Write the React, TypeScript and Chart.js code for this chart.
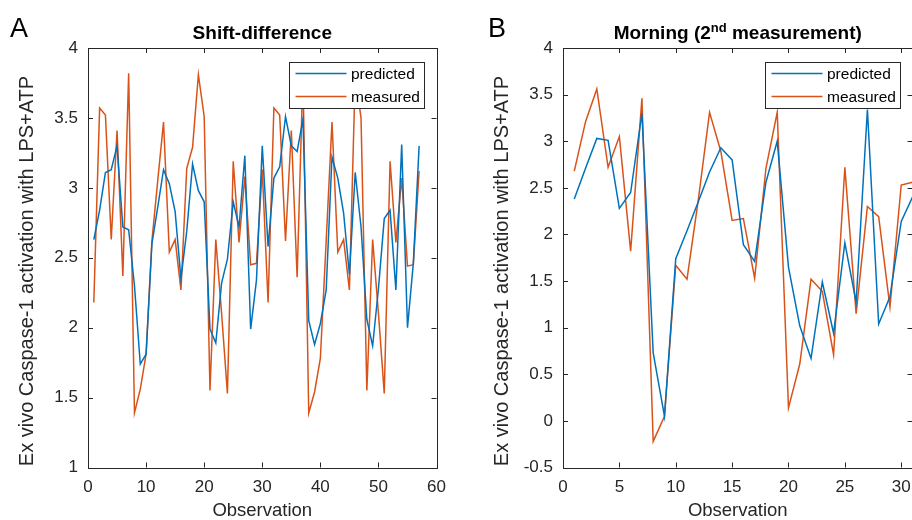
import React, { useEffect, useRef } from "react";
import { Chart, registerables } from "chart.js";
Chart.register(...registerables);

const FONT = "'Liberation Sans', Arial, Helvetica, sans-serif";
const AXIS_COLOR = "#262626";
const BLUE = "#0072BD";
const ORANGE = "#D95319";

// Panel A: Shift-difference
const predictedA = [2.63, 2.84, 3.11, 3.13, 3.30, 2.72, 2.70, 2.30, 1.74, 1.81, 2.60, 2.86, 3.13, 3.03, 2.83, 2.35, 2.69, 3.17, 2.98, 2.90, 1.99, 1.89, 2.32, 2.49, 2.90, 2.72, 3.23, 1.99, 2.34, 3.30, 2.58, 3.07, 3.15, 3.51, 3.30, 3.26, 3.49, 2.05, 1.88, 2.03, 2.27, 3.22, 3.07, 2.82, 2.38, 3.11, 2.72, 2.06, 1.87, 2.28, 2.78, 2.84, 2.27, 3.31, 2.00, 2.46, 3.30];
const measuredA = [2.18, 3.57, 3.52, 2.63, 3.41, 2.37, 3.82, 1.39, 1.56, 1.81, 2.62, 3.05, 3.47, 2.54, 2.63, 2.27, 3.14, 3.29, 3.81, 3.51, 1.55, 2.63, 2.10, 1.53, 3.19, 2.61, 3.08, 2.45, 2.46, 3.13, 2.18, 3.57, 3.52, 2.62, 3.41, 2.36, 3.82, 1.39, 1.54, 1.78, 2.62, 3.47, 2.54, 2.63, 2.27, 3.80, 3.50, 1.55, 2.63, 2.10, 1.53, 3.19, 2.61, 3.07, 2.44, 2.45, 3.12];
const xTicksA = [0, 10, 20, 30, 40, 50, 60];
const yTicksA = [1, 1.5, 2, 2.5, 3, 3.5, 4];

// Panel B: Morning (2nd measurement)
const predictedB = [2.38, 2.71, 3.03, 3.01, 2.28, 2.45, 3.30, 0.73, 0.05, 1.74, 2.04, 2.35, 2.67, 2.93, 2.80, 1.89, 1.71, 2.56, 3.00, 1.65, 1.02, 0.67, 1.49, 0.94, 1.91, 1.27, 3.34, 1.04, 1.33, 2.14, 2.40];
const measuredB = [2.68, 3.21, 3.56, 2.72, 3.05, 1.82, 3.46, -0.22, 0.05, 1.67, 1.52, 2.37, 3.31, 2.89, 2.15, 2.17, 1.53, 2.71, 3.31, 0.14, 0.61, 1.52, 1.39, 0.71, 2.72, 1.15, 2.30, 2.19, 1.22, 2.53, 2.56];
const xTicksB = [0, 5, 10, 15, 20, 25, 30];
const yTicksB = [-0.5, 0, 0.5, 1, 1.5, 2, 2.5, 3, 3.5, 4];

const Y_TITLE = "Ex vivo Caspase-1 activation with LPS+ATP";
const X_TITLE = "Observation";
const SERIES_LABELS = ["predicted", "measured"];

const CANVAS_W = 456;
const CANVAS_H = 530;

const framePlugin = {
  id: "matlabFrame",
  afterDatasetsDraw(chart: any, _args: any, opts: any) {
    const { ctx, chartArea: a, scales } = chart;
    ctx.save();
    // ticks (inward, all sides)
    ctx.strokeStyle = AXIS_COLOR;
    ctx.lineWidth = 1;
    const L = 5;
    ctx.beginPath();
    for (const t of scales.x.ticks) {
      const px = Math.round(scales.x.getPixelForValue(t.value)) + 0.5;
      ctx.moveTo(px, a.bottom);
      ctx.lineTo(px, a.bottom - L);
      ctx.moveTo(px, a.top);
      ctx.lineTo(px, a.top + L);
    }
    for (const t of scales.y.ticks) {
      const py = Math.round(scales.y.getPixelForValue(t.value)) + 0.5;
      ctx.moveTo(a.left, py);
      ctx.lineTo(a.left + L, py);
      ctx.moveTo(a.right, py);
      ctx.lineTo(a.right - L, py);
    }
    ctx.stroke();
    ctx.strokeRect(Math.round(a.left) + 0.5, Math.round(a.top) + 0.5, Math.round(a.right - a.left), Math.round(a.bottom - a.top));

    // legend
    const bw = 135, bh = 46;
    const bx = Math.round(a.right - 12.5 - bw) + 0.5;
    const by = Math.round(a.top + 14) + 0.5;
    ctx.fillStyle = "#ffffff";
    ctx.fillRect(bx, by, bw, bh);
    ctx.strokeStyle = AXIS_COLOR;
    ctx.lineWidth = 1;
    ctx.strokeRect(bx, by, bw, bh);
    ctx.font = `15.5px ${FONT}`;
    ctx.textBaseline = "middle";
    ctx.textAlign = "left";
    chart.data.datasets.forEach((ds: any, i: number) => {
      const ly = by + 11 + i * 23;
      ctx.strokeStyle = ds.borderColor;
      ctx.lineWidth = 1.5;
      ctx.beginPath();
      ctx.moveTo(bx + 6, ly);
      ctx.lineTo(bx + 57, ly);
      ctx.stroke();
      ctx.fillStyle = "#000000";
      ctx.fillText(ds.label, bx + 61.5, ly + 1);
    });

    // title with optional superscript
    const parts = opts.title as { text: string; sup?: boolean }[];
    const mainFont = `bold 19px ${FONT}`;
    const supFont = `bold 13px ${FONT}`;
    let total = 0;
    for (const p of parts) {
      ctx.font = p.sup ? supFont : mainFont;
      total += ctx.measureText(p.text).width;
    }
    let tx = (a.left + a.right) / 2 - total / 2;
    const baseY = 39;
    ctx.fillStyle = "#000000";
    ctx.textBaseline = "alphabetic";
    for (const p of parts) {
      ctx.font = p.sup ? supFont : mainFont;
      ctx.fillText(p.text, tx, p.sup ? baseY - 7 : baseY);
      tx += ctx.measureText(p.text).width;
    }

    // y-axis title (rotated)
    ctx.save();
    ctx.translate(27, 271);
    ctx.rotate(-Math.PI / 2);
    ctx.font = `20px ${FONT}`;
    ctx.fillStyle = AXIS_COLOR;
    ctx.textAlign = "center";
    ctx.textBaseline = "middle";
    ctx.fillText(Y_TITLE, 0, 0);
    ctx.restore();

    // panel letter
    ctx.font = `27px ${FONT}`;
    ctx.fillStyle = "#000000";
    ctx.textAlign = "left";
    ctx.textBaseline = "alphabetic";
    ctx.fillText(opts.letter, opts.letterX, 37);
    ctx.restore();
  },
};

function makeConfig(
  predicted: number[],
  measured: number[],
  xMax: number,
  xTicks: number[],
  yTicks: number[],
  title: { text: string; sup?: boolean }[],
  letter: string,
  letterX: number
): any {
  const obs = predicted.map((_, i) => i + 1);
  return {
    type: "line",
    data: {
      datasets: [
        {
          label: SERIES_LABELS[0],
          data: obs.map((x, i) => ({ x, y: predicted[i] })),
          borderColor: BLUE,
          borderWidth: 1.5,
          pointRadius: 0,
          tension: 0,
          fill: false,
        },
        {
          label: SERIES_LABELS[1],
          data: obs.map((x, i) => ({ x, y: measured[i] })),
          borderColor: ORANGE,
          borderWidth: 1.5,
          pointRadius: 0,
          tension: 0,
          fill: false,
        },
      ],
    },
    options: {
      responsive: false,
      animation: false,
      events: [],
      layout: { padding: { left: 0, right: 18.5, top: 48, bottom: 0 } },
      plugins: {
        legend: { display: false },
        tooltip: { enabled: false },
        title: { display: false },
        matlabFrame: { title, letter, letterX },
      },
      scales: {
        x: {
          type: "linear",
          min: 0,
          max: xMax,
          afterFit: (s: any) => {
            s.height = CANVAS_H - 467.5;
          },
          afterBuildTicks: (s: any) => {
            s.ticks = xTicks.map((v) => ({ value: v }));
          },
          grid: { display: false, drawTicks: false },
          border: { display: false },
          ticks: {
            padding: 10,
            color: AXIS_COLOR,
            font: { family: FONT, size: 17 },
            maxRotation: 0,
            autoSkip: false,
            callback: (v: any) => String(v),
          },
          title: {
            display: true,
            text: X_TITLE,
            color: AXIS_COLOR,
            font: { family: FONT, size: 18.5 },
            padding: { top: 0, bottom: 8 },
          },
        },
        y: {
          type: "linear",
          min: yTicks[0],
          max: yTicks[yTicks.length - 1],
          afterFit: (s: any) => {
            s.width = 88;
          },
          afterBuildTicks: (s: any) => {
            s.ticks = yTicks.map((v) => ({ value: v }));
          },
          grid: { display: false, drawTicks: false },
          border: { display: false },
          ticks: {
            padding: 10,
            color: AXIS_COLOR,
            font: { family: FONT, size: 17 },
            autoSkip: false,
            callback: (v: any) => String(v),
          },
          title: { display: false },
        },
      },
    },
    plugins: [framePlugin],
  };
}

function Panel(props: { cfg: () => any; left: number }) {
  const ref = useRef<HTMLCanvasElement | null>(null);
  useEffect(() => {
    if (!ref.current) return;
    const chart = new Chart(ref.current, props.cfg());
    return () => chart.destroy();
  }, []);
  return (
    <canvas
      ref={ref}
      width={CANVAS_W}
      height={CANVAS_H}
      style={{ position: "absolute", left: props.left, top: 0, width: CANVAS_W, height: CANVAS_H }}
    />
  );
}

export default function App() {
  return (
    <div
      style={{
        position: "absolute",
        left: 0,
        top: 0,
        width: 912,
        height: 520,
        overflow: "hidden",
        background: "#ffffff",
      }}
    >
      <Panel
        left={0}
        cfg={() =>
          makeConfig(predictedA, measuredA, 60, xTicksA, yTicksA, [{ text: "Shift-difference" }], "A", 10)
        }
      />
      <Panel
        left={475}
        cfg={() =>
          makeConfig(
            predictedB,
            measuredB,
            31,
            xTicksB,
            yTicksB,
            [{ text: "Morning (2" }, { text: "nd", sup: true }, { text: " measurement)" }],
            "B",
            13
          )
        }
      />
    </div>
  );
}
